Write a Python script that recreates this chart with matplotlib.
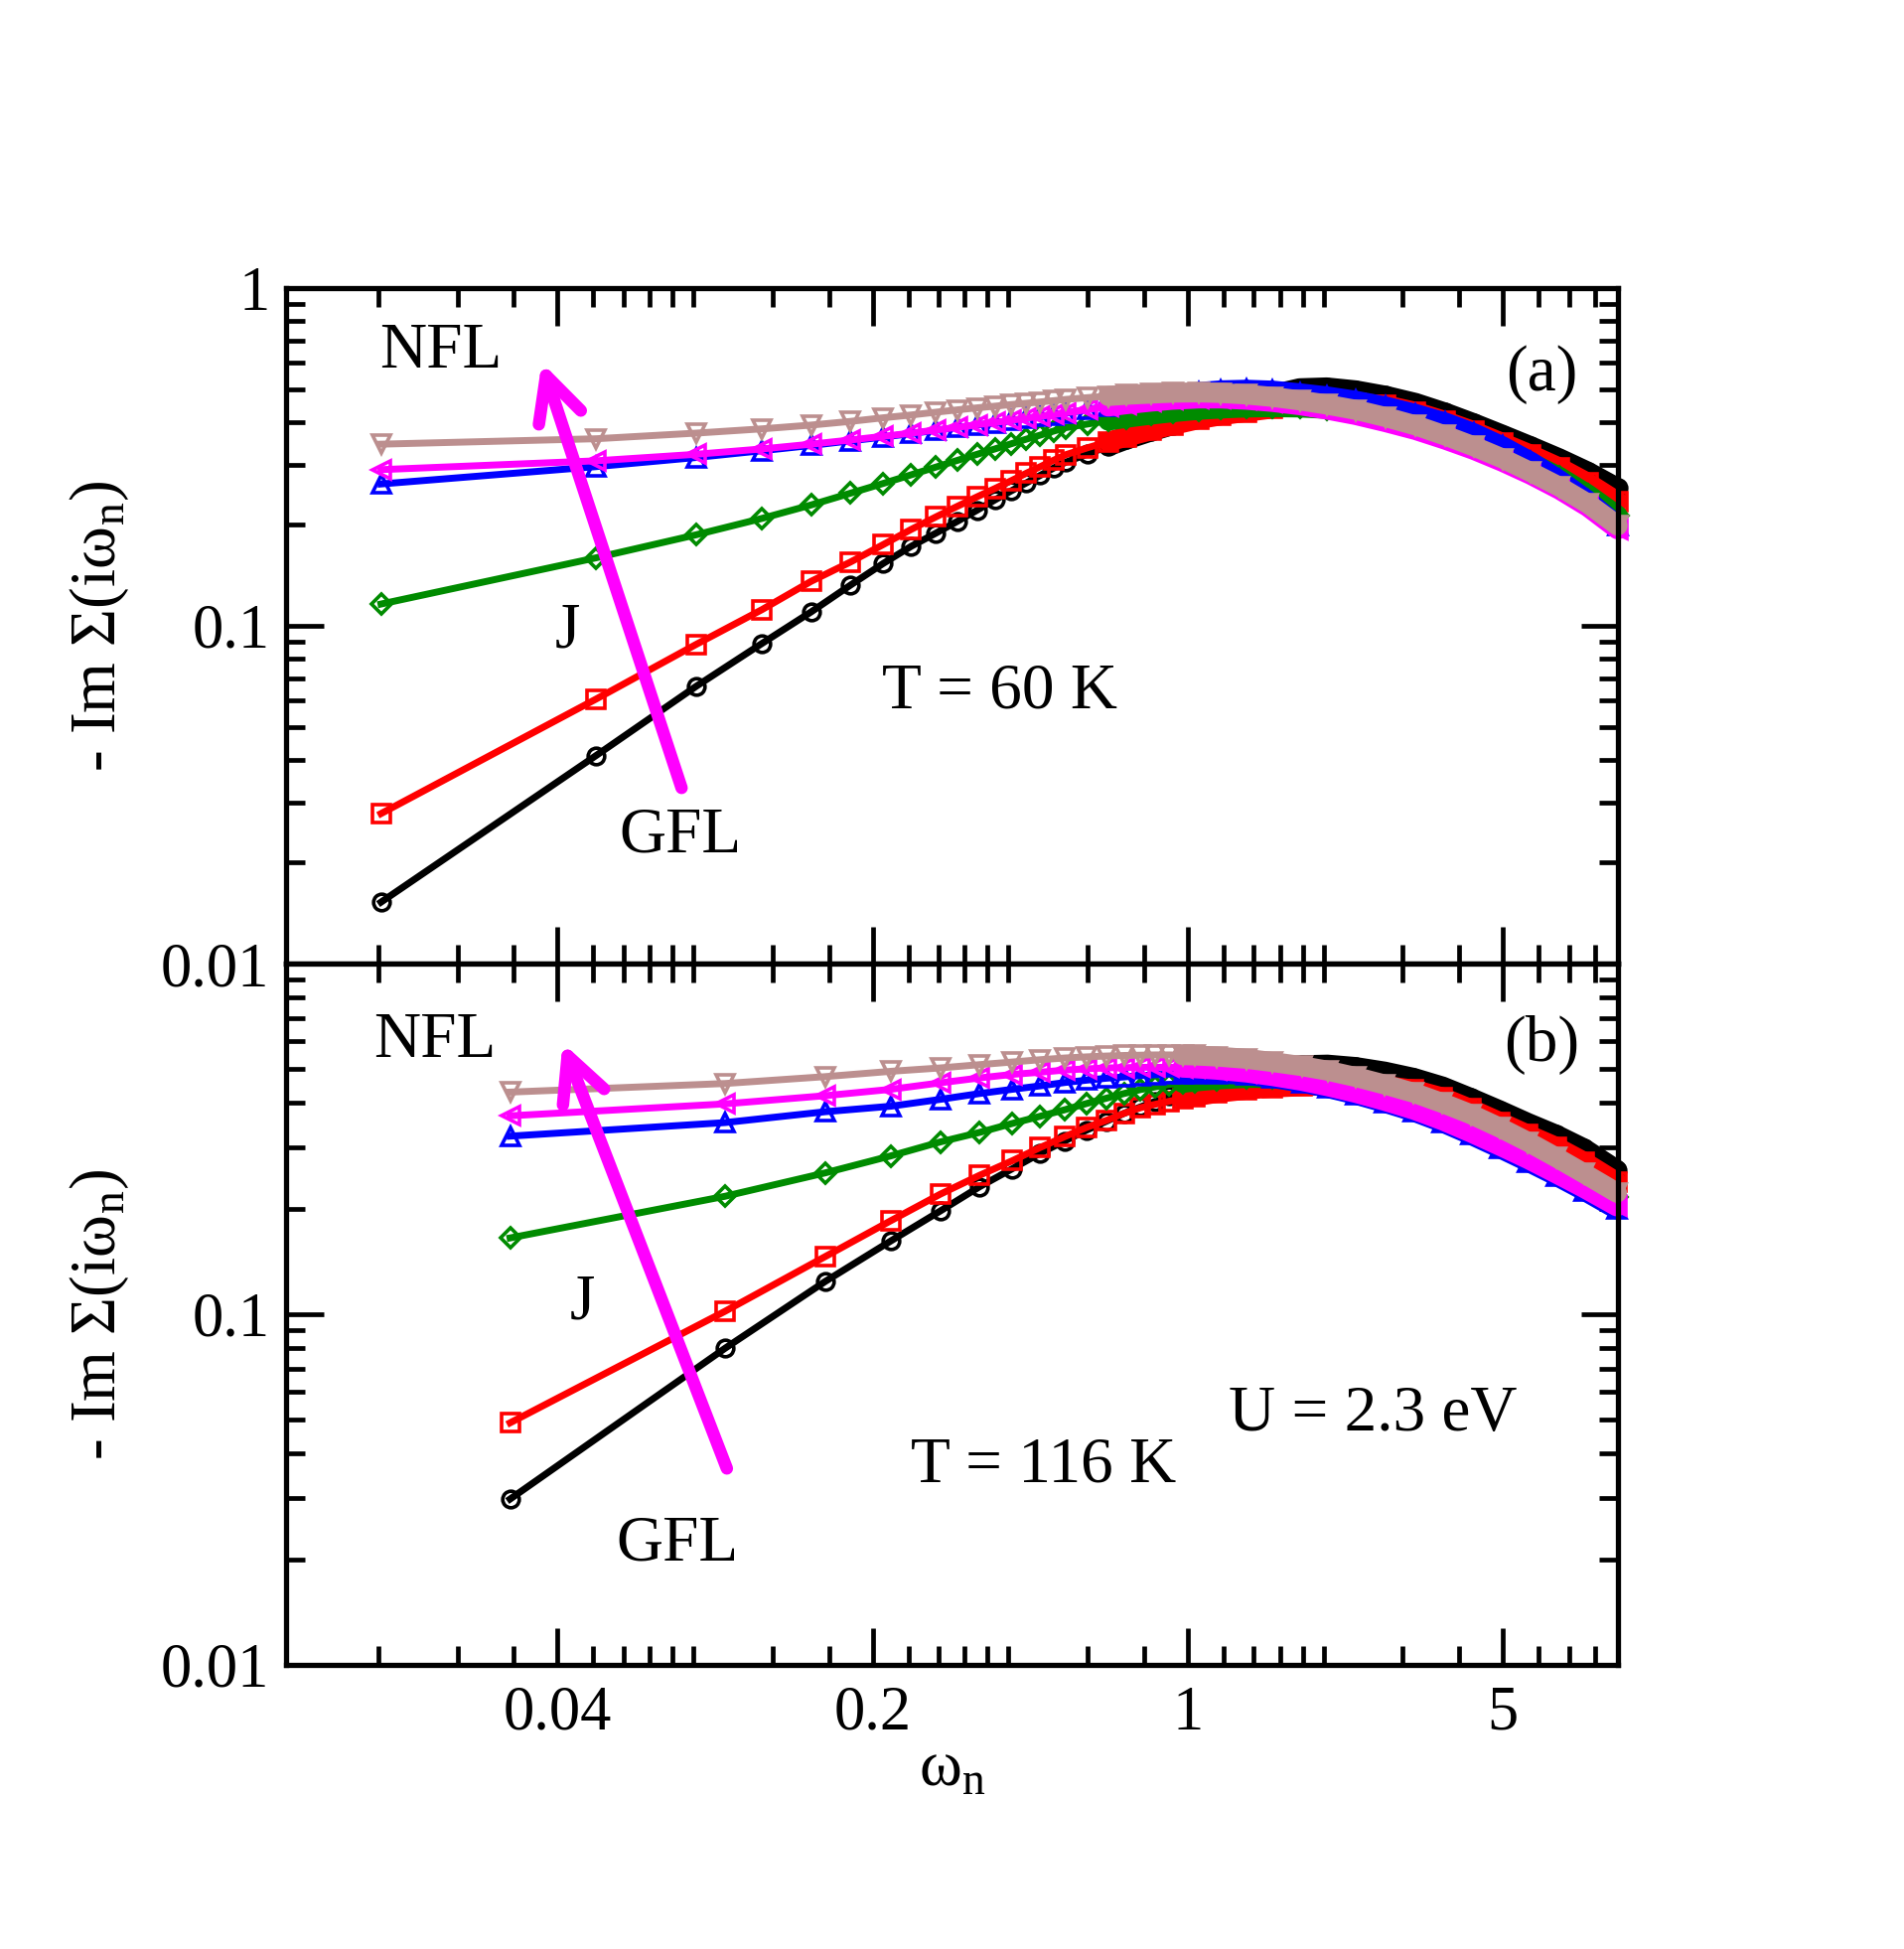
import numpy as np
import matplotlib
matplotlib.use("Agg")
import matplotlib.pyplot as plt
from matplotlib.ticker import FixedLocator, FixedFormatter, NullFormatter, LogLocator

plt.rcParams['font.family'] = ['Liberation Serif', 'DejaVu Serif']
plt.rcParams['mathtext.fontset'] = 'custom'
plt.rcParams['mathtext.rm'] = 'Liberation Serif'
plt.rcParams['mathtext.it'] = 'Liberation Serif:italic'
plt.rcParams['mathtext.bf'] = 'Liberation Serif:bold'

# ---------------- data ----------------
KB = 8.617333e-5          # eV / K
T_A = 60.0                # K, panel (a)
T_B = 116.0               # K, panel (b)

# Matsubara indices that are plotted
N_A = list(range(17)) + [18, 20, 22, 25, 28, 32, 36, 41, 47, 54, 62, 72, 84,
                         98, 114, 132, 153, 177, 205, 237, 276]
N_B = list(range(17)) + [18, 21, 24, 28, 32, 37, 43, 50, 58, 67, 78, 90, 104,
                         120, 142]

# panel (a): -Im Sigma(i w_n), T = 60 K
A_black = [0.0152, 0.0413, 0.0662, 0.0887, 0.110, 0.132, 0.153, 0.172, 0.188,
           0.204, 0.220, 0.236, 0.251, 0.265, 0.279, 0.293, 0.305,
           0.323, 0.340, 0.356, 0.376, 0.393, 0.415, 0.437, 0.460, 0.484,
           0.505, 0.508, 0.498, 0.480, 0.457, 0.428, 0.398, 0.368, 0.340,
           0.313, 0.286, 0.256]
A_red = [0.0278, 0.0607, 0.0881, 0.1117, 0.1355, 0.1545, 0.174, 0.193, 0.210,
         0.226, 0.241, 0.255, 0.269, 0.283, 0.296, 0.309, 0.321,
         0.337, 0.351, 0.363, 0.379, 0.393, 0.409, 0.420, 0.430, 0.440,
         0.450, 0.456, 0.457, 0.450, 0.430, 0.404, 0.377, 0.348, 0.321,
         0.294, 0.265, 0.233]
A_green = [0.116, 0.159, 0.186, 0.208, 0.228, 0.247, 0.264, 0.280, 0.295,
           0.309, 0.322, 0.334, 0.346, 0.357, 0.367, 0.377, 0.386,
           0.396, 0.405, 0.413, 0.422, 0.429, 0.436, 0.440, 0.443, 0.444,
           0.443, 0.439, 0.431, 0.419, 0.402, 0.381, 0.357, 0.331, 0.304,
           0.276, 0.245, 0.212]
A_blue = [0.263, 0.296, 0.315, 0.330, 0.342, 0.353, 0.362, 0.371, 0.379,
          0.387, 0.393, 0.399, 0.405, 0.411, 0.416, 0.421, 0.426,
          0.437, 0.448, 0.458, 0.471, 0.482, 0.492, 0.498, 0.500, 0.497,
          0.488, 0.478, 0.464, 0.446, 0.424, 0.400, 0.372, 0.340, 0.306,
          0.270, 0.235, 0.198]
A_magenta = [0.290, 0.308, 0.322, 0.334, 0.345, 0.355, 0.364, 0.372, 0.380,
             0.387, 0.394, 0.400, 0.406, 0.412, 0.417, 0.422, 0.427,
             0.437, 0.446, 0.453, 0.461, 0.467, 0.471, 0.471, 0.467, 0.460,
             0.450, 0.437, 0.421, 0.401, 0.380, 0.356, 0.332, 0.306, 0.280,
             0.253, 0.225, 0.193]
A_brown = [0.345, 0.358, 0.372, 0.383, 0.393, 0.403, 0.413, 0.421, 0.429,
           0.436, 0.442, 0.447, 0.452, 0.456, 0.460, 0.464, 0.468,
           0.474, 0.479, 0.483, 0.487, 0.490, 0.491, 0.489, 0.484, 0.476,
           0.465, 0.452, 0.436, 0.415, 0.392, 0.366, 0.340, 0.313, 0.285,
           0.258, 0.230, 0.198]

# panel (b): -Im Sigma(i w_n), T = 116 K
B_black = [0.0297, 0.0800, 0.124, 0.162, 0.197, 0.231, 0.260, 0.288, 0.312,
           0.335, 0.355, 0.374, 0.390, 0.405, 0.420, 0.433, 0.445,
           0.465, 0.488, 0.503, 0.513, 0.515, 0.507, 0.492, 0.472, 0.446,
           0.414, 0.381, 0.351, 0.325, 0.297, 0.258]
B_red = [0.0490, 0.102, 0.146, 0.185, 0.220, 0.249, 0.274, 0.299, 0.321,
         0.341, 0.357, 0.374, 0.388, 0.397, 0.405, 0.412, 0.418,
         0.428, 0.437, 0.443, 0.447, 0.450, 0.451, 0.448, 0.437, 0.415,
         0.385, 0.353, 0.325, 0.300, 0.272, 0.238]
B_green = [0.165, 0.217, 0.253, 0.283, 0.310, 0.330, 0.350, 0.367, 0.383,
           0.399, 0.413, 0.426, 0.437, 0.445, 0.452, 0.457, 0.461,
           0.467, 0.472, 0.472, 0.468, 0.458, 0.445, 0.428, 0.408, 0.385,
           0.358, 0.328, 0.300, 0.272, 0.246, 0.216]
B_blue = [0.322, 0.352, 0.378, 0.392, 0.410, 0.426, 0.438, 0.448, 0.458,
          0.465, 0.471, 0.475, 0.479, 0.482, 0.484, 0.485, 0.486,
          0.486, 0.481, 0.472, 0.458, 0.442, 0.423, 0.401, 0.378, 0.352,
          0.325, 0.297, 0.272, 0.248, 0.225, 0.199]
B_magenta = [0.368, 0.398, 0.420, 0.438, 0.457, 0.472, 0.483, 0.490, 0.497,
             0.501, 0.504, 0.505, 0.506, 0.506, 0.506, 0.505, 0.503,
             0.498, 0.489, 0.478, 0.463, 0.447, 0.428, 0.406, 0.383, 0.357,
             0.330, 0.302, 0.277, 0.252, 0.229, 0.203]
B_brown = [0.430, 0.455, 0.476, 0.493, 0.504, 0.515, 0.524, 0.532, 0.538,
           0.542, 0.545, 0.547, 0.548, 0.549, 0.549, 0.548, 0.547,
           0.543, 0.535, 0.524, 0.510, 0.495, 0.475, 0.452, 0.428, 0.400,
           0.372, 0.340, 0.310, 0.280, 0.252, 0.222]

X_MAJOR = [0.04, 0.2, 1, 5]
X_MAJOR_LABELS = ['0.04', '0.2', '1', '5']
X_MINOR = [0.016, 0.024, 0.032,
           0.048, 0.056, 0.064, 0.072, 0.08, 0.12, 0.16,
           0.24, 0.28, 0.32, 0.36, 0.4, 0.6, 0.8,
           1.2, 1.4, 1.6, 1.8, 2, 3, 4,
           6, 7, 8]

# ---------------- style ----------------
SERIES_STYLE = [  # colour, marker, markersize
    ('black', 'o', 12.0),
    ('#ff0000', 's', 12.5),
    ('#008b00', 'D', 10.0),
    ('#0000ff', '^', 13.5),
    ('#ff00ff', '<', 13.5),
    ('#bc8f8f', 'v', 13.5),
]
FS_TEXT = 47
FS_TICK = 45


def matsubara(nlist, T):
    return (2 * np.asarray(nlist) + 1) * np.pi * KB * T


def style_axis(ax, show_xlabels, ylabels):
    ax.set_xscale('log')
    ax.set_yscale('log')
    ax.set_xlim(0.01, 9.0)
    ax.set_ylim(0.01, 1.0)
    ax.xaxis.set_major_locator(FixedLocator(X_MAJOR))
    ax.xaxis.set_minor_locator(FixedLocator(X_MINOR))
    ax.xaxis.set_major_formatter(FixedFormatter(X_MAJOR_LABELS))
    ax.xaxis.set_minor_formatter(NullFormatter())
    ax.yaxis.set_major_locator(FixedLocator([0.01, 0.1, 1.0]))
    ax.yaxis.set_minor_locator(LogLocator(base=10, subs=np.arange(2, 10)))
    ax.yaxis.set_major_formatter(FixedFormatter(ylabels))
    ax.yaxis.set_minor_formatter(NullFormatter())
    ax.tick_params(which='both', direction='in', top=True, right=True,
                   width=3.4, labelsize=FS_TICK)
    ax.tick_params(which='major', length=27)
    ax.tick_params(which='minor', length=14)
    ax.tick_params(axis='x', pad=15, labelbottom=show_xlabels)
    ax.tick_params(axis='y', pad=12)
    for s in ax.spines.values():
        s.set_linewidth(3.8)


def draw_series(ax, w, ys, band_from):
    w = np.asarray(w)
    for (col, mk, ms), y in zip(SERIES_STYLE, ys):
        y = np.asarray(y)
        m = w >= band_from
        ax.plot(w[m], y[m], color=col, lw=14.5, solid_capstyle='round',
                solid_joinstyle='round', clip_on=False)
        ax.plot(w, y, color=col, lw=5.0, marker=mk, ms=ms, mfc='none',
                mec=col, mew=2.6, clip_on=False)


fig = plt.figure(figsize=(19.17, 19.62), dpi=100)
ax_a = fig.add_axes([0.1502, 0.5056, 0.6996, 0.3466])
ax_b = fig.add_axes([0.1502, 0.1458, 0.6996, 0.3598])

w_a = matsubara(N_A, T_A)
w_b = matsubara(N_B, T_B)

draw_series(ax_a, w_a, [A_black, A_red, A_green, A_blue, A_magenta, A_brown], 0.65)
draw_series(ax_b, w_b, [B_black, B_red, B_green, B_blue, B_magenta, B_brown], 0.95)

style_axis(ax_a, False, ['0.01', '0.1', '1'])
style_axis(ax_b, True, ['0.01', '0.1', ''])

ylab = '- Im Σ(iω$_{\\mathregular{n}}$)'
for ax in (ax_a, ax_b):
    ax.text(-0.140, 0.5, ylab, transform=ax.transAxes, rotation=90,
            ha='center', va='center', fontsize=FS_TEXT)
ax_b.text(0.5, -0.171, 'ω$_{\\mathregular{n}}$', transform=ax_b.transAxes,
          ha='center', va='baseline', fontsize=FS_TEXT)

# annotations panel (a)
ta = ax_a.transAxes
ax_a.text(0.116, 0.883, 'NFL', transform=ta, ha='center', va='baseline', fontsize=FS_TEXT)
ax_a.text(0.211, 0.469, 'J', transform=ta, ha='center', va='baseline', fontsize=FS_TEXT)
ax_a.text(0.296, 0.165, 'GFL', transform=ta, ha='center', va='baseline', fontsize=FS_TEXT)
ax_a.text(0.536, 0.379, 'T = 60 K', transform=ta, ha='center', va='baseline', fontsize=FS_TEXT)
ax_a.text(0.943, 0.849, '(a)', transform=ta, ha='center', va='baseline', fontsize=FS_TEXT)
ax_a.annotate('', xy=(0.192, 0.890), xytext=(0.297, 0.260),
              xycoords='axes fraction', textcoords='axes fraction',
              arrowprops=dict(arrowstyle='->,head_length=1.6,head_width=0.8',
                              color='#ff00ff', lw=9, mutation_scale=20,
                              shrinkA=0, shrinkB=0))

# annotations panel (b)
tb = ax_b.transAxes
ax_b.text(0.112, 0.867, 'NFL', transform=tb, ha='center', va='baseline', fontsize=FS_TEXT)
ax_b.text(0.2227, 0.493, 'J', transform=tb, ha='center', va='baseline', fontsize=FS_TEXT)
ax_b.text(0.2936, 0.150, 'GFL', transform=tb, ha='center', va='baseline', fontsize=FS_TEXT)
ax_b.text(0.569, 0.261, 'T = 116 K', transform=tb, ha='center', va='baseline', fontsize=FS_TEXT)
ax_b.text(0.816, 0.334, 'U = 2.3 eV', transform=tb, ha='center', va='baseline', fontsize=FS_TEXT)
ax_b.text(0.943, 0.861, '(b)', transform=tb, ha='center', va='baseline', fontsize=FS_TEXT)
ax_b.annotate('', xy=(0.2077, 0.887), xytext=(0.331, 0.280),
              xycoords='axes fraction', textcoords='axes fraction',
              arrowprops=dict(arrowstyle='->,head_length=1.6,head_width=0.8',
                              color='#ff00ff', lw=9, mutation_scale=20,
                              shrinkA=0, shrinkB=0))

fig.savefig('out.png', dpi=100)
